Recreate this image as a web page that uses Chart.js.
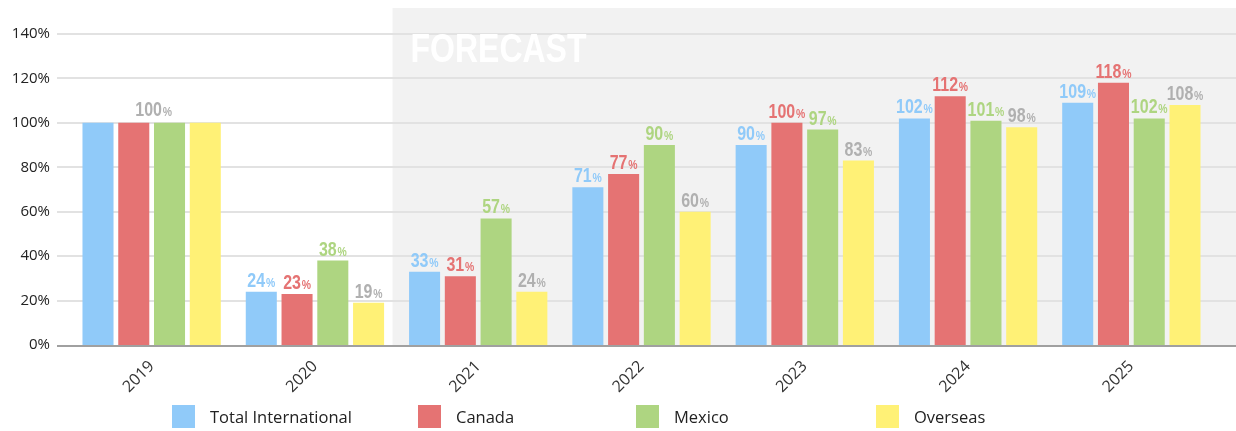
<!DOCTYPE html>
<html>
<head>
<meta charset="utf-8">
<script src="https://cdn.jsdelivr.net/npm/chart.js@4.4.0/dist/chart.umd.min.js"></script>
<style>
  body { margin: 0; background: #fff; }
  #wrap { position: relative; width: 1236px; height: 431px; }
  #legend { position: absolute; left: 0; top: 405px; width: 1236px; height: 24px; font-family: "Open Sans", sans-serif; font-size: 16.5px; color: #222; }
  .item { position: absolute; top: 0; display: flex; align-items: center; height: 23px; }
  .box { width: 23px; height: 23px; margin-right: 15px; }
</style>
</head>
<body>
<div id="wrap">
  <canvas id="chart" width="1236" height="431"></canvas>
  <div id="legend"></div>
</div>
<script>
const years = ["2019", "2020", "2021", "2022", "2023", "2024", "2025"];
const seriesNames = ["Total International", "Canada", "Mexico", "Overseas"];
const totalIntl = [100, 24, 33, 71, 90, 102, 109];
const canada = [100, 23, 31, 77, 100, 112, 118];
const mexico = [100, 38, 57, 90, 97, 101, 102];
const overseas = [100, 19, 24, 60, 83, 98, 108];
const yMax = 140;
const yStep = 20;
const forecastFrom = 2; // index of first forecast year

const barColors = ["#90caf9", "#e57373", "#aed581", "#fff176"];
const labelColors = ["#90caf9", "#e57373", "#aed581", "#b0b0b0"];
const legendLeft = [172, 418, 636, 876];

const NARROW = 0.8; // squeeze Liberation Sans into a condensed look
const boldFont = (px) => "bold " + px + "px 'Liberation Sans', Arial, sans-serif";

function drawLabel(ctx, value, cx, baseY, color) {
  const num = String(value);
  ctx.save();
  ctx.font = boldFont(20);
  const w1 = ctx.measureText(num).width;
  ctx.font = boldFont(13);
  const w2 = ctx.measureText("%").width;
  const total = (w1 + w2 + 1) * NARROW;
  ctx.translate(cx - total / 2, baseY);
  ctx.scale(NARROW, 1);
  ctx.fillStyle = color;
  ctx.textAlign = "left";
  ctx.textBaseline = "alphabetic";
  ctx.font = boldFont(20);
  ctx.fillText(num, 0, 0);
  ctx.font = boldFont(13);
  ctx.fillText("%", w1 + 1, 0);
  ctx.restore();
}

// background panel, grid lines and axis line
const backdrop = {
  id: "backdrop",
  beforeDatasetsDraw(chart) {
    const ctx = chart.ctx;
    const x = chart.scales.x;
    const y = chart.scales.y;
    const left = (x.getPixelForValue(forecastFrom - 1) + x.getPixelForValue(forecastFrom)) / 2 - 4;
    ctx.save();
    ctx.fillStyle = "#f2f2f2";
    ctx.fillRect(left, 8, chart.width - left, y.bottom - 8);
    ctx.strokeStyle = "#e2e2e2";
    ctx.lineWidth = 2;
    y.ticks.forEach((t) => {
      if (t.value === 0) return;
      const py = Math.round(y.getPixelForValue(t.value));
      ctx.beginPath();
      ctx.moveTo(57, py);
      ctx.lineTo(chart.width, py);
      ctx.stroke();
    });
    ctx.translate(left + 18, 62);
    ctx.scale(0.78, 1);
    ctx.font = boldFont(41);
    ctx.fillStyle = "#ffffff";
    ctx.textBaseline = "alphabetic";
    ctx.fillText("FORECAST", 0, 0);
    ctx.restore();
  },
  afterDatasetsDraw(chart) {
    const ctx = chart.ctx;
    const x = chart.scales.x;
    const y = chart.scales.y;
    ctx.save();
    ctx.strokeStyle = "#a0a0a0";
    ctx.lineWidth = 2;
    ctx.beginPath();
    ctx.moveTo(57, y.bottom + 1);
    ctx.lineTo(chart.width, y.bottom + 1);
    ctx.stroke();
    ctx.restore();

    chart.data.datasets.forEach((ds, i) => {
      const meta = chart.getDatasetMeta(i);
      meta.data.forEach((bar, j) => {
        if (j === 0) return;
        drawLabel(ctx, ds.data[j], bar.x, bar.y - 5, labelColors[i]);
      });
    });
    // 2019 is the base year: one label for the group
    drawLabel(ctx, totalIntl[0], x.getPixelForValue(0) + 2, y.getPixelForValue(totalIntl[0]) - 7, labelColors[3]);
  }
};

const seriesData = [totalIntl, canada, mexico, overseas];

const chart = new Chart(document.getElementById("chart"), {
  type: "bar",
  data: {
    labels: years,
    datasets: seriesNames.map((name, i) => ({
      label: name,
      data: seriesData[i],
      backgroundColor: barColors[i],
      borderWidth: 0,
      categoryPercentage: 0.876,
      barPercentage: 0.868,
    })),
  },
  options: {
    responsive: false,
    animation: false,
    layout: { padding: { top: 34, right: 23, left: 0, bottom: 0 } },
    plugins: {
      legend: { display: false },
      tooltip: { enabled: false },
    },
    scales: {
      x: {
        grid: { display: false },
        border: { display: false },
        ticks: {
          color: "#333",
          font: { family: "'Open Sans', sans-serif", size: 16 },
          maxRotation: 45,
          minRotation: 45,
          padding: 4,
        },
        afterFit(scale) { scale.height = 86; },
      },
      y: {
        min: 0,
        max: yMax,
        grid: { display: false, drawTicks: false },
        border: { display: false },
        ticks: {
          stepSize: yStep,
          padding: 20,
          color: "#222",
          font: { family: "'Open Sans', sans-serif", size: 15 },
          callback: (v) => v + "%",
        },
        afterFit(scale) { scale.width = 70; },
      },
    },
  },
  plugins: [backdrop],
});

const legend = document.getElementById("legend");
seriesNames.forEach((name, i) => {
  const item = document.createElement("div");
  item.className = "item";
  item.style.left = legendLeft[i] + "px";
  const box = document.createElement("span");
  box.className = "box";
  box.style.background = barColors[i];
  const text = document.createElement("span");
  text.textContent = name;
  item.appendChild(box);
  item.appendChild(text);
  legend.appendChild(item);
});
</script>
</body>
</html>
